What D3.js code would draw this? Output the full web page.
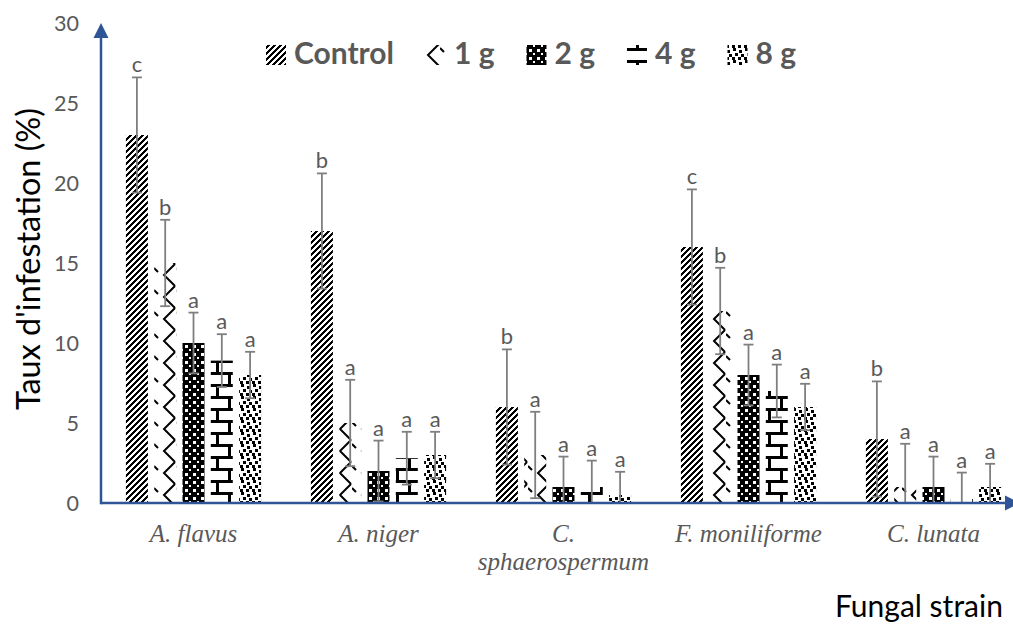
<!DOCTYPE html>
<html><head><meta charset="utf-8">
<script src="https://cdn.jsdelivr.net/npm/d3@7"></script>
<style>body{margin:0;background:#fff}svg{display:block}</style>
</head><body>
<svg id="chart" width="1013" height="626"></svg>
<script>
// ---- data ----
const categories = ["A. flavus", "A. niger", "C. sphaerospermum", "F. moniliforme", "C. lunata"];
const series = ["Control", "1 g", "2 g", "4 g", "8 g"];
const valuesControl = [23, 17, 6, 16, 4];
const values1g = [15, 5, 3, 12, 1];
const values2g = [10, 2, 1, 8, 1];
const values4g = [8.9, 2.8, 1, 7, 0.25];
const values8g = [8, 3, 0.5, 6, 1];
const seriesError = [3.6, 2.7, 1.9, 1.65, 1.45];
const lettersControl = ["c", "b", "b", "c", "b"];
const letters1g = ["b", "a", "a", "b", "a"];
const letters2g = ["a", "a", "a", "a", "a"];
const letters4g = ["a", "a", "a", "a", "a"];
const letters8g = ["a", "a", "a", "a", "a"];
const yTicks = [0, 5, 10, 15, 20, 25, 30];
const yTitle = "Taux d'infestation (%)";
const xTitle = "Fungal strain";

const allValues = [valuesControl, values1g, values2g, values4g, values8g];
const allLetters = [lettersControl, letters1g, letters2g, letters4g, letters8g];
const rows = [];
series.forEach((s, si) => categories.forEach((c, ci) => rows.push({
  series: s, si, cat: c, value: allValues[si][ci], err: seriesError[si], letter: allLetters[si][ci]
})));

const svg = d3.select("#chart");
const sansFont = "Lato, 'Open Sans', sans-serif";
const gray = "#595959";
const axisColor = "#2F5597";

// ---- patterns ----
const defs = svg.append("defs");
function pat(id, w, h, bg) {
  const p = defs.append("pattern").attr("id", id).attr("patternUnits", "userSpaceOnUse")
    .attr("width", w).attr("height", h).attr("shape-rendering", "crispEdges");
  p.append("rect").attr("width", w).attr("height", h).attr("fill", bg);
  return p;
}
// Control: wide upward diagonal (pixel stair-steps)
let p = pat("pat0", 6, 6, "#fff");
for (let r = 0; r < 6; r++) {
  for (let k = 0; k < 3; k++) {
    const xx = (6 - r + k) % 6;
    p.append("rect").attr("x", xx).attr("y", r).attr("width", 1).attr("height", 1).attr("fill", "#000");
  }
}
// 1 g: zigzag
p = pat("pat1", 22, 22, "#fff");
p.append("path").attr("d", "M21,0 L10,11 L21,22 M0,4 L4,8").attr("stroke", "#000").attr("stroke-width", 2).attr("fill", "none")
  .attr("shape-rendering", "auto");
// 2 g: black with white dots
p = pat("pat2", 8, 8, "#000");
p.append("rect").attr("x", 1).attr("y", 1).attr("width", 3).attr("height", 3).attr("fill", "#fff");
p.append("rect").attr("x", 5).attr("y", 5).attr("width", 2).attr("height", 2).attr("fill", "#fff");
// 4 g: horizontal brick
p = pat("pat3", 24, 24, "#fff");
[[0,0,24,3],[0,12,24,3],[0,0,3,12],[12,12,3,12]].forEach(r =>
  p.append("rect").attr("x", r[0]).attr("y", r[1]).attr("width", r[2]).attr("height", r[3]).attr("fill", "#000"));
// 8 g: large confetti
p = pat("pat4", 12, 12, "#fff");
[[1,0],[7,2],[3,5],[9,6],[0,9],[6,9]].forEach(r =>
  p.append("rect").attr("x", r[0]).attr("y", r[1]).attr("width", 3).attr("height", 3).attr("fill", "#000"));
const patFill = si => `url(#pat${si})`;

// ---- scales ----
const x0 = d3.scaleBand().domain(categories).range([101, 1026]).paddingInner(0).paddingOuter(0);
const x1 = d3.scaleBand().domain(series).range([0, x0.bandwidth()]).paddingInner(0.223).paddingOuter(0.88);
const y = d3.scaleLinear().domain([0, 30]).range([503, 23]);

// ---- bars ----
svg.append("g").selectAll("rect").data(rows).join("rect")
  .attr("x", d => x0(d.cat) + x1(d.series))
  .attr("width", x1.bandwidth())
  .attr("y", d => y(d.value))
  .attr("height", d => y(0) - y(d.value))
  .attr("fill", d => patFill(d.si));

// ---- error bars ----
const eg = svg.append("g").attr("stroke", "#7f7f7f").attr("stroke-width", 1.8).attr("fill", "none");
const capW = 5;
rows.forEach(d => {
  const cx = x0(d.cat) + x1(d.series) + x1.bandwidth() / 2;
  const hi = d.value + d.err, lo = Math.max(0, d.value - d.err);
  eg.append("line").attr("x1", cx).attr("x2", cx).attr("y1", y(hi)).attr("y2", y(lo));
  eg.append("line").attr("x1", cx - capW).attr("x2", cx + capW).attr("y1", y(hi)).attr("y2", y(hi));
  if (d.value - d.err >= 0) eg.append("line").attr("x1", cx - capW).attr("x2", cx + capW).attr("y1", y(lo)).attr("y2", y(lo));
});

// ---- letters ----
svg.append("g").selectAll("text").data(rows).join("text")
  .attr("x", d => x0(d.cat) + x1(d.series) + x1.bandwidth() / 2)
  .attr("y", d => y(d.value + d.err) - 5)
  .attr("text-anchor", "middle")
  .attr("font-family", sansFont).attr("font-size", 22).attr("fill", gray)
  .text(d => d.letter);

// ---- axes ----
const ax = svg.append("g");
ax.append("line").attr("x1", 101).attr("x2", 101).attr("y1", y(0) + 1.25).attr("y2", y(30) + 12)
  .attr("stroke", axisColor).attr("stroke-width", 2.5);
ax.append("path").attr("d", `M101,${y(30)} L93.5,${y(30) + 15} L108.5,${y(30) + 15} Z`).attr("fill", axisColor);
ax.append("line").attr("x1", 101).attr("x2", 1008).attr("y1", y(0)).attr("y2", y(0))
  .attr("stroke", axisColor).attr("stroke-width", 2.5);
ax.append("path").attr("d", `M1020,${y(0)} L1005,${y(0) - 7.5} L1005,${y(0) + 7.5} Z`).attr("fill", axisColor);

function fit(sel, target) {
  const fs = parseFloat(sel.attr("font-size"));
  const w = sel.node().getComputedTextLength();
  const nf = fs * target / w;
  sel.attr("font-size", nf);
  return nf;
}
// y tick labels
const tg = svg.append("g");
const probe = tg.append("text").attr("font-family", sansFont).attr("font-size", 24).text("30");
const tickFs = fit(probe, 25);
probe.remove();
tg.selectAll("text").data(yTicks).join("text")
  .attr("x", 79).attr("y", d => y(d)).attr("dy", "0.36em")
  .attr("text-anchor", "end").attr("font-family", sansFont).attr("font-size", tickFs).attr("fill", gray)
  .text(d => d);

// category labels with wrapping
const catG = svg.append("g");
categories.forEach(c => {
  const t = catG.append("text").attr("text-anchor", "middle")
    .attr("font-family", "'Liberation Serif', 'Times New Roman', serif").attr("font-style", "italic")
    .attr("font-size", 25).attr("fill", gray);
  const cx = x0(c) + x0.bandwidth() / 2;
  t.text(c);
  let lines = [c];
  if (t.node().getComputedTextLength() > x0.bandwidth() - 10) {
    const words = c.split(" ");
    lines = []; let cur = [];
    words.forEach(wd => {
      const test = cur.concat([wd]).join(" ");
      t.text(test);
      if (cur.length && t.node().getComputedTextLength() > x0.bandwidth() - 10) { lines.push(cur.join(" ")); cur = [wd]; }
      else cur.push(wd);
    });
    lines.push(cur.join(" "));
  }
  t.text(null);
  lines.forEach((ln, i) => t.append("tspan").attr("x", cx).attr("y", 542 + i * 28).text(ln));
});

// y title
const yt = svg.append("text").attr("transform", `translate(40,259) rotate(-90)`)
  .attr("text-anchor", "middle").attr("font-family", sansFont).attr("font-size", 32).attr("fill", "#000")
  .text(yTitle);
fit(yt, 302);

// x title
const xt = svg.append("text").attr("x", 835).attr("y", 617)
  .attr("font-family", sansFont).attr("font-size", 30).attr("fill", "#000").text(xTitle);
fit(xt, 168);

// ---- legend ----
const lg = svg.append("g");
let lx = 266;
let legFs = null;
series.forEach((s, si) => {
  lg.append("rect").attr("x", lx).attr("y", 45).attr("width", 20).attr("height", 20).attr("fill", patFill(si));
  const t = lg.append("text").attr("x", lx + 28).attr("y", 64)
    .attr("font-family", sansFont).attr("font-weight", "bold").attr("font-size", legFs || 30).attr("fill", gray).text(s);
  if (legFs === null) legFs = fit(t, 100);
  lx = lx + 28 + t.node().getComputedTextLength() + 32;
});
</script>
</body></html>
